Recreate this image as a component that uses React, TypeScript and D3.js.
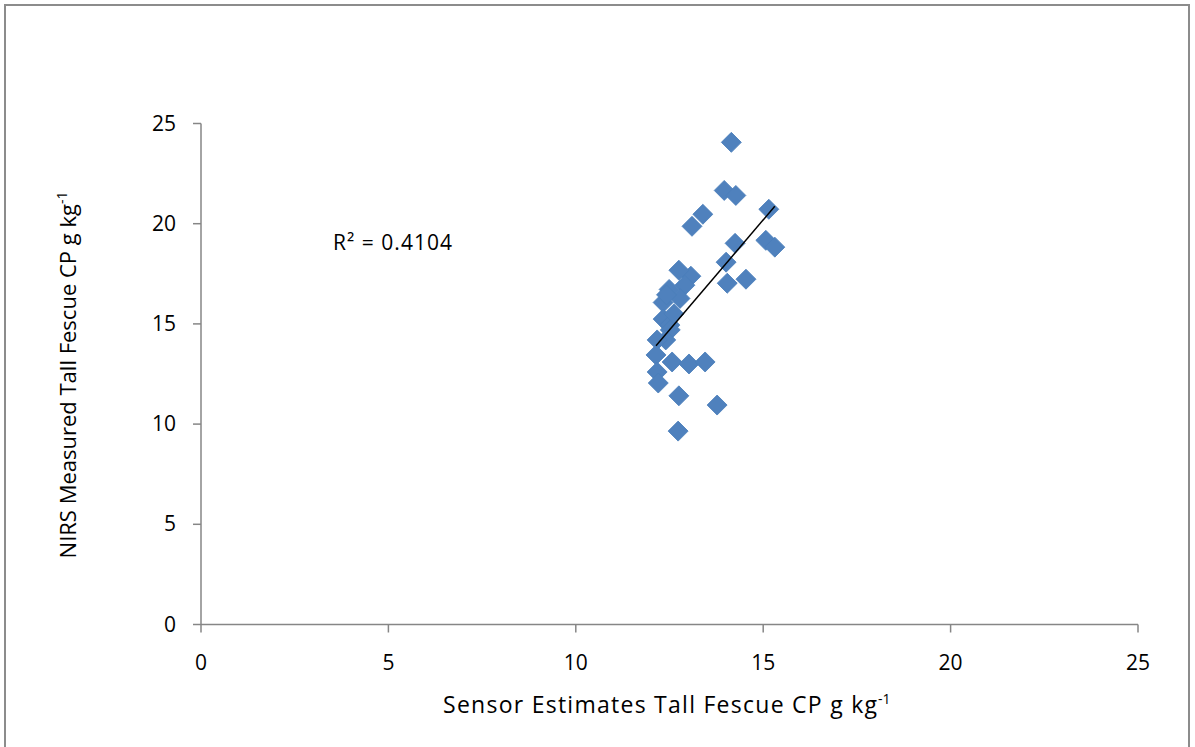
import React from "react";
import * as d3 from "d3";

// Sensor estimate (x) and NIRS measurement (y) of tall fescue crude protein
const sensorCP = [
  14.15, 13.96, 14.27, 13.39, 13.1, 15.15, 15.07, 15.31, 14.25, 14.01,
  14.04, 14.54, 13.07, 12.75, 12.91, 12.78, 12.49, 12.33, 12.33, 12.51,
  12.52, 12.4, 12.17, 12.14, 12.57, 13.02, 13.45, 12.17, 12.2, 12.75,
  13.77, 12.73, 12.42, 12.62,
];
const nirsCP = [
  24.06, 21.66, 21.41, 20.47, 19.87, 20.72, 19.17, 18.83, 19.02, 18.08,
  17.03, 17.23, 17.38, 17.68, 16.93, 16.27, 16.72, 16.07, 15.24, 14.94,
  14.7, 14.2, 14.2, 13.45, 13.1, 13.0, 13.1, 12.6, 12.05, 11.41,
  10.95, 9.65, 16.45, 15.5,
];

const xTicks = [0, 5, 10, 15, 20, 25];
const yTicks = [0, 5, 10, 15, 20, 25];
const rSquaredLabel = "R² = 0.4104";

const W = 1195;
const H = 747;
const FONT = "'Open Sans', 'Noto Sans', sans-serif";
const AXIS = "#868686";

export default function App() {
  const x = d3.scaleLinear().domain([0, 25]).range([201, 1138]);
  const y = d3.scaleLinear().domain([0, 25]).range([624.5, 123.5]);

  const pts = sensorCP.map((v, i) => ({ x: v, y: nirsCP[i] }));

  // least-squares trend line across the data's x range
  const mx = d3.mean(sensorCP)!;
  const my = d3.mean(nirsCP)!;
  let sxy = 0;
  let sxx = 0;
  pts.forEach((p) => {
    sxy += (p.x - mx) * (p.y - my);
    sxx += (p.x - mx) * (p.x - mx);
  });
  const slope = sxy / sxx;
  const intercept = my - slope * mx;
  const [x0, x1] = d3.extent(sensorCP) as [number, number];
  const trend = d3.line<number>()
    .x((d) => x(d))
    .y((d) => y(intercept + slope * d))([x0, x1]);

  const diamond = d3.symbol().type(d3.symbolSquare).size(200)()!;

  return (
    <svg
      width={W}
      height={H}
      style={{ position: "absolute", left: 0, top: 0, background: "#fff" }}
      fontFamily={FONT}
    >
      <rect x={5} y={5} width={1184} height={760} fill="none" stroke="#8c8c8c" strokeWidth={2} />

      {/* axes */}
      <line x1={x(0)} x2={x(25)} y1={y(0)} y2={y(0)} stroke={AXIS} strokeWidth={1.5} />
      <line x1={x(0)} x2={x(0)} y1={y(0)} y2={y(25)} stroke={AXIS} strokeWidth={1.5} />
      {xTicks.map((t) => (
        <g key={"xt" + t}>
          <line x1={x(t)} x2={x(t)} y1={y(0)} y2={y(0) + 8} stroke={AXIS} strokeWidth={1.5} />
          <text x={x(t)} y={y(0) + 45} textAnchor="middle" fontSize={21} fill="#000">
            {t}
          </text>
        </g>
      ))}
      {yTicks.map((t) => (
        <g key={"yt" + t}>
          <line x1={x(0) - 8} x2={x(0)} y1={y(t)} y2={y(t)} stroke={AXIS} strokeWidth={1.5} />
          <text x={x(0) - 25} y={y(t) + 7} textAnchor="end" fontSize={21} fill="#000">
            {t}
          </text>
        </g>
      ))}

      {/* points */}
      {pts.map((p, i) => (
        <path
          key={i}
          d={diamond}
          transform={`translate(${x(p.x)},${y(p.y)}) rotate(45)`}
          fill="#4f81bd"
          stroke="#4a7ebb"
          strokeWidth={0.8}
        />
      ))}

      <path d={trend!} stroke="#000" strokeWidth={1.5} fill="none" />

      <text x={333} y={250} fontSize={21} fill="#000" textLength={119} lengthAdjust="spacing">
        {rSquaredLabel}
      </text>

      {/* axis titles */}
      <text x={443} y={713} fontSize={23} fill="#000" textLength={434} lengthAdjust="spacing">
        Sensor Estimates Tall Fescue CP g kg
      </text>
      <text x={878} y={704} fontSize={14} fill="#000">-1</text>
      <text transform="translate(76,375) rotate(-90)" textAnchor="middle" fontSize={22} fill="#000">
        NIRS Measured Tall Fescue CP g kg
        <tspan dy={-9} fontSize={14}>-1</tspan>
      </text>
    </svg>
  );
}
